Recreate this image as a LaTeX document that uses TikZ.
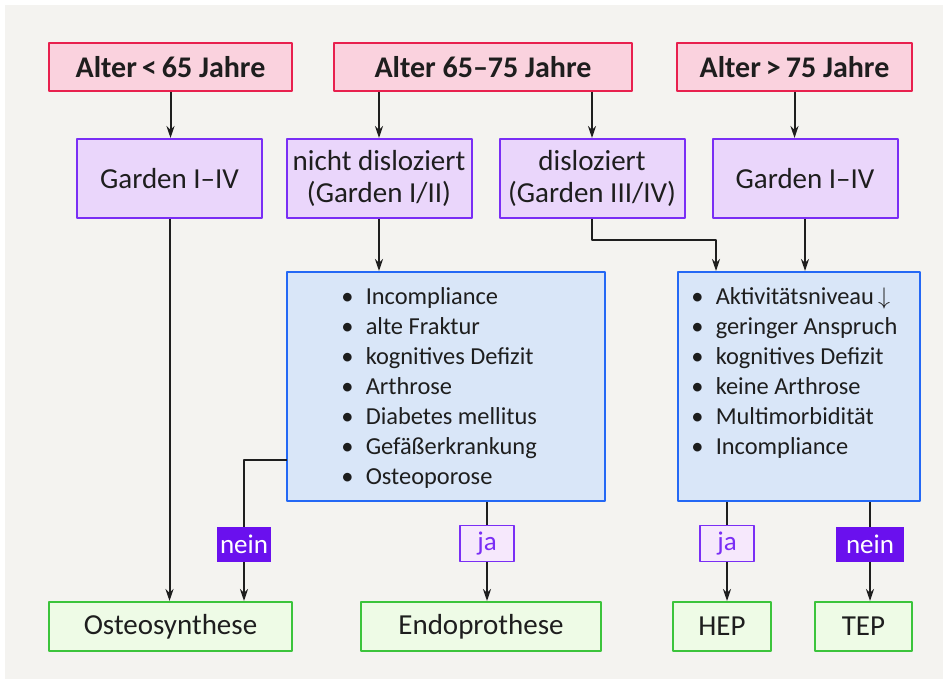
\documentclass[tikz,border=0pt]{standalone}
\usepackage{fontspec}
\setmainfont{Carlito}
\usetikzlibrary{arrows.meta}
\begin{document}
\begin{tikzpicture}[x=0.5pt, y=-0.5pt, line join=round]
  \definecolor{panel}{HTML}{F4F3F0}
  \definecolor{agefill}{HTML}{FAD2DE}
  \definecolor{ageline}{HTML}{E8204E}
  \definecolor{gardfill}{HTML}{EAD6FB}
  \definecolor{gardline}{HTML}{7A2EF5}
  \definecolor{critfill}{HTML}{D9E6F8}
  \definecolor{critline}{HTML}{2468F5}
  \definecolor{opfill}{HTML}{EEFBE6}
  \definecolor{opline}{HTML}{3CC43C}
  \definecolor{nofill}{HTML}{6A10EE}
  \definecolor{yesfill}{HTML}{F6E8FC}
  \definecolor{ink}{HTML}{1E1E1E}
  \path[use as bounding box] (0,0) rectangle (948,684);
  \fill[white] (0,0) rectangle (948,684);
  \fill[panel] (5,5) rectangle (943,679);
  \tikzset{
    age/.style={draw=ageline, fill=agefill, line width=1pt, font=\bfseries\fontsize{15}{17}\selectfont,
      text=ink, minimum height=24pt, inner sep=0pt},
    garden/.style={draw=gardline, fill=gardfill, line width=1pt, font=\fontsize{14.5}{16}\selectfont,
      text=ink, minimum width=92.5pt, minimum height=39.5pt, align=center, inner sep=0pt},
    crit/.style={draw=critline, fill=critfill, line width=1pt, minimum height=114.5pt, inner sep=0pt},
    list/.style={font=\fontsize{12.2}{15}\selectfont, text=ink, align=left, anchor=north west, inner sep=0pt},
    op/.style={draw=opline, fill=opfill, line width=1pt, font=\fontsize{14.5}{16}\selectfont,
      text=ink, minimum height=24.5pt, inner sep=0pt},
    nein/.style={fill=nofill, text=white, font=\fontsize{13.5}{15}\selectfont, minimum height=17.5pt, inner sep=0pt},
    ja/.style={draw=gardline, fill=yesfill, text=gardline, line width=0.8pt, font=\fontsize{13.5}{15}\selectfont,
      minimum width=27pt, minimum height=18pt, inner sep=0pt},
    arr/.style={draw=ink, line width=1pt, -{Stealth[length=6pt,width=4pt]}},
    link/.style={draw=ink, line width=1pt}
  }
  % age groups
  \node[age, minimum width=121.5pt] (age1) at (170.5,67) {Alter\,<\,65 Jahre};
  \node[age, minimum width=149pt] (age2) at (483,67) {Alter 65--75 Jahre};
  \node[age, minimum width=117.5pt] (age3) at (794.5,67) {Alter\,>\,75 Jahre};
  % fracture type
  \node[garden] (g1) at (169.5,178.5) {Garden I--IV};
  \node[garden] (nd) at (379,178.5) {nicht disloziert\\(Garden I/II)};
  \node[garden] (dis) at (592,178.5) {disloziert\\(Garden III/IV)};
  \node[garden] (g4) at (805,178.5) {Garden I--IV};
  % criteria
  \node[crit, minimum width=159pt] (critL) at (446,386.5) {};
  \node[list] (listL) at (341,287) {\textbullet\enspace Incompliance\\ \textbullet\enspace alte Fraktur\\
    \textbullet\enspace kognitives Defizit\\ \textbullet\enspace Arthrose\\ \textbullet\enspace Diabetes mellitus\\
    \textbullet\enspace Gefäßerkrankung\\ \textbullet\enspace Osteoporose};
  \node[crit, minimum width=121pt] (critR) at (799,386.5) {};
  \node[list] (listR) at (691,287) {\textbullet\enspace Aktivitätsniveau\,$\downarrow$\\ \textbullet\enspace geringer Anspruch\\
    \textbullet\enspace kognitives Defizit\\ \textbullet\enspace keine Arthrose\\ \textbullet\enspace Multimorbidität\\
    \textbullet\enspace Incompliance};
  % answers
  \node[nein, minimum width=27pt] (neinL) at (244,544.5) {nein};
  \node[ja] (jaL) at (487,543.5) {ja};
  \node[ja] (jaR) at (727,543.5) {ja};
  \node[nein, minimum width=34pt] (neinR) at (870,544.5) {nein};
  % therapy
  \node[op, minimum width=121.5pt] (osteo) at (170.5,626.5) {Osteosynthese};
  \node[op, minimum width=120pt] (endo) at (481,626.5) {Endoprothese};
  \node[op, minimum width=49pt] (hep) at (722,626.5) {HEP};
  \node[op, minimum width=48.5pt] (tep) at (863.5,626.5) {TEP};
  % connectors
  \draw[arr] (age1.south) -- (age1.south |- g1.north);
  \draw[arr] (nd.north |- age2.south) -- (nd.north);
  \draw[arr] (dis.north |- age2.south) -- (dis.north);
  \draw[arr] (age3.south) -- (age3.south |- g4.north);
  \draw[arr] (g1.south) -- (g1.south |- osteo.north);
  \draw[arr] (nd.south) -- (nd.south |- critL.north);
  \coordinate (disbend) at (716,240);
  \draw[arr] (dis.south) |- (disbend) -- (disbend |- critR.north);
  \draw[arr] (g4.south) -- (g4.south |- critR.north);
  \coordinate (neinbend) at (287,460);
  \draw[link] (neinbend) -| (neinL.north);
  \draw[arr] (neinL.south) -- (neinL.south |- osteo.north);
  \draw[link] (jaL.north |- critL.south) -- (jaL.north);
  \draw[arr] (jaL.south) -- (jaL.south |- endo.north);
  \draw[link] (jaR.north |- critR.south) -- (jaR.north);
  \draw[arr] (jaR.south) -- (jaR.south |- hep.north);
  \draw[link] (neinR.north |- critR.south) -- (neinR.north);
  \draw[arr] (neinR.south) -- (neinR.south |- tep.north);
\end{tikzpicture}
\end{document}
